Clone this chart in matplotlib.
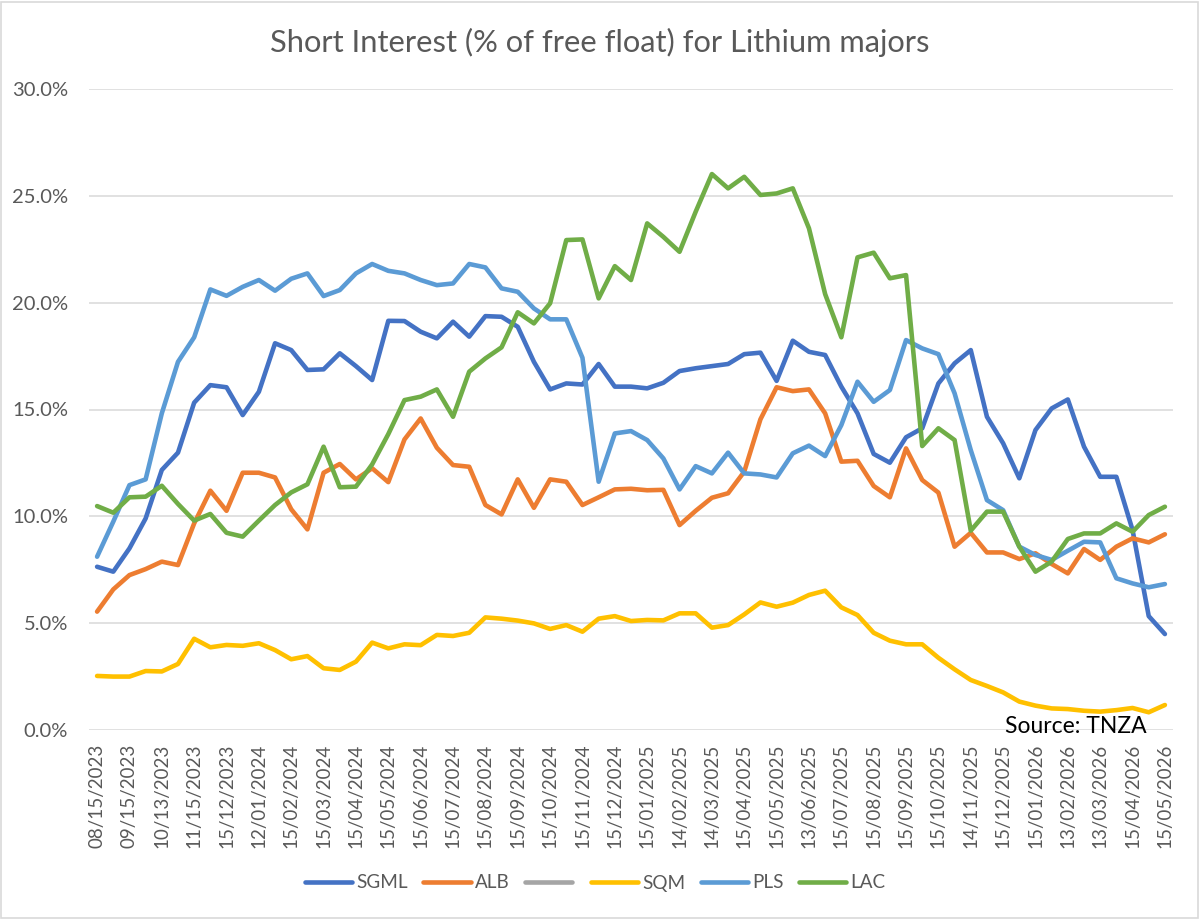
import matplotlib
matplotlib.use("Agg")
import matplotlib.pyplot as plt
import matplotlib.transforms as mtransforms
from matplotlib.lines import Line2D
from matplotlib.patches import Rectangle
import numpy as np

plt.rcParams['font.family'] = ['Lato', 'DejaVu Sans']

# tick labels (every second observation is labelled)
date_labels = ['08/15/2023', '09/15/2023', '10/13/2023', '11/15/2023', '15/12/2023',
               '12/01/2024', '15/02/2024', '15/03/2024', '15/04/2024', '15/05/2024',
               '15/06/2024', '15/07/2024', '15/08/2024', '15/09/2024', '15/10/2024',
               '15/11/2024', '15/12/2024', '15/01/2025', '14/02/2025', '14/03/2025',
               '15/04/2025', '15/05/2025', '13/06/2025', '15/07/2025', '15/08/2025',
               '15/09/2025', '15/10/2025', '14/11/2025', '15/12/2025', '15/01/2026',
               '13/02/2026', '13/03/2026', '15/04/2026', '15/05/2026']

# short interest, % of free float (semi-monthly)
sgml = [7.64, 7.41, 8.50, 9.90, 12.17, 12.98, 15.32, 16.14, 16.04, 14.74,
        15.83, 18.10, 17.78, 16.85, 16.88, 17.63, 17.03, 16.38, 19.15, 19.14,
        18.64, 18.33, 19.11, 18.41, 19.37, 19.34, 18.87, 17.23, 15.94, 16.22,
        16.17, 17.13, 16.07, 16.07, 15.99, 16.25, 16.80, 16.93, 17.03, 17.13,
        17.59, 17.66, 16.34, 18.22, 17.70, 17.55, 16.07, 14.82, 12.92, 12.51,
        13.70, 14.12, 16.22, 17.16, 17.78, 14.66, 13.42, 11.78, 14.04, 15.05,
        15.47, 13.26, 11.85, 11.85, 9.36, 5.33, 4.49]

alb = [5.54, 6.58, 7.25, 7.53, 7.88, 7.72, 9.67, 11.20, 10.26, 12.04,
       12.04, 11.82, 10.33, 9.39, 12.04, 12.45, 11.73, 12.25, 11.60, 13.60,
       14.58, 13.21, 12.40, 12.32, 10.53, 10.09, 11.73, 10.40, 11.73, 11.62,
       10.53, 10.89, 11.26, 11.29, 11.22, 11.24, 9.59, 10.26, 10.87, 11.08,
       12.09, 14.54, 16.04, 15.86, 15.94, 14.82, 12.56, 12.60, 11.42, 10.89,
       13.18, 11.70, 11.11, 8.58, 9.23, 8.31, 8.31, 8.00, 8.27, 7.77,
       7.33, 8.47, 7.96, 8.58, 8.97, 8.78, 9.16]

sqm = [2.53, 2.50, 2.50, 2.76, 2.74, 3.09, 4.27, 3.87, 3.98, 3.94,
       4.06, 3.74, 3.31, 3.46, 2.89, 2.81, 3.20, 4.09, 3.82, 4.01,
       3.97, 4.45, 4.40, 4.55, 5.27, 5.21, 5.12, 4.99, 4.73, 4.91,
       4.60, 5.21, 5.33, 5.10, 5.15, 5.13, 5.46, 5.46, 4.79, 4.91,
       5.41, 5.97, 5.77, 5.96, 6.32, 6.52, 5.74, 5.38, 4.55, 4.18,
       4.01, 4.01, 3.38, 2.84, 2.34, 2.06, 1.76, 1.33, 1.14, 1.01,
       0.98, 0.90, 0.86, 0.93, 1.03, 0.83, 1.17]

pls = [8.11, 9.75, 11.46, 11.73, 14.82, 17.23, 18.38, 20.62, 20.32, 20.74,
       21.06, 20.56, 21.12, 21.37, 20.31, 20.59, 21.37, 21.81, 21.49, 21.37,
       21.06, 20.82, 20.90, 21.81, 21.65, 20.67, 20.51, 19.73, 19.22, 19.22,
       17.42, 11.62, 13.88, 13.99, 13.57, 12.71, 11.26, 12.35, 12.01, 12.98,
       12.01, 11.96, 11.82, 12.95, 13.31, 12.82, 14.27, 16.30, 15.36, 15.91,
       18.25, 17.86, 17.59, 15.76, 13.10, 10.76, 10.29, 8.58, 8.19, 7.96,
       8.39, 8.81, 8.78, 7.10, 6.86, 6.68, 6.83]

lac = [10.48, 10.17, 10.89, 10.92, 11.43, 10.58, 9.80, 10.11, 9.23, 9.05,
       9.80, 10.53, 11.12, 11.50, 13.26, 11.36, 11.39, 12.43, 13.85, 15.44,
       15.60, 15.94, 14.66, 16.77, 17.39, 17.91, 19.55, 19.03, 19.97, 22.93,
       22.96, 20.20, 21.71, 21.06, 23.71, 23.08, 22.38, 24.26, 26.02, 25.35,
       25.89, 25.04, 25.11, 25.35, 23.48, 20.40, 18.38, 22.12, 22.34, 21.14,
       21.29, 13.29, 14.12, 13.57, 9.33, 10.22, 10.22, 8.58, 7.41, 7.88,
       8.94, 9.20, 9.20, 9.67, 9.28, 10.06, 10.45]

series = [('SGML', sgml, '#4472C4'),
          ('ALB', alb, '#ED7D31'),
          ('', None, '#A5A5A5'),
          ('SQM', sqm, '#FFC000'),
          ('PLS', pls, '#5B9BD5'),
          ('LAC', lac, '#70AD47')]

fig = plt.figure(figsize=(12, 9.19), dpi=100)
ax = fig.add_axes([89 / 1200, 1 - 730 / 919, (1173 - 89) / 1200, (730 - 89) / 919])

handles = []
for name, vals, col in series:
    if vals is None:
        h = Line2D([], [], color=col, lw=3.3, solid_capstyle='round')
    else:
        h, = ax.plot(np.arange(len(vals)), vals, color=col, lw=3.3,
                     solid_joinstyle='round', solid_capstyle='round')
    handles.append(h)

ax.set_xlim(-0.5, len(sgml) - 0.5)
ax.set_ylim(0, 30)
ax.set_yticks(np.arange(0, 31, 5))
ax.set_yticklabels([f'{v:.1f}%' for v in np.arange(0, 31, 5)])
ax.set_xticks(np.arange(0, len(sgml), 2))
ax.set_xticklabels(date_labels, rotation=90)
ax.tick_params(axis='both', length=0, colors='#595959')
ax.tick_params(axis='y', pad=15, labelsize=14.5)
ax.tick_params(axis='x', pad=10, labelsize=13.5)
ax.grid(axis='y', color='#D9D9D9', lw=1.1)
ax.set_axisbelow(True)
for s in ax.spines.values():
    s.set_visible(False)

fig.text(0.5, 1 - 42 / 919, 'Short Interest (% of free float) for Lithium majors',
         ha='center', va='center', fontsize=22.2, color='#595959')
trans = mtransforms.blended_transform_factory(ax.transAxes, ax.transData)
ax.text(0.976, -0.15, 'Source: TNZA', transform=trans, ha='right', va='baseline',
        fontsize=16.5, color='black')

leg = fig.legend(handles, [s[0] for s in series], loc='center', ncol=6,
                 bbox_to_anchor=(0.496, 1 - 883 / 919), frameon=False,
                 fontsize=13.6, handlelength=2.5, handletextpad=0.22,
                 columnspacing=0.8)
for t in leg.get_texts():
    t.set_color('#595959')

fig.patches.append(Rectangle((0.001, 0.001), 0.997, 0.997, transform=fig.transFigure,
                             fill=False, edgecolor='#D9D9D9', lw=1.2))

fig.savefig('out.png', dpi=100, facecolor='white')
